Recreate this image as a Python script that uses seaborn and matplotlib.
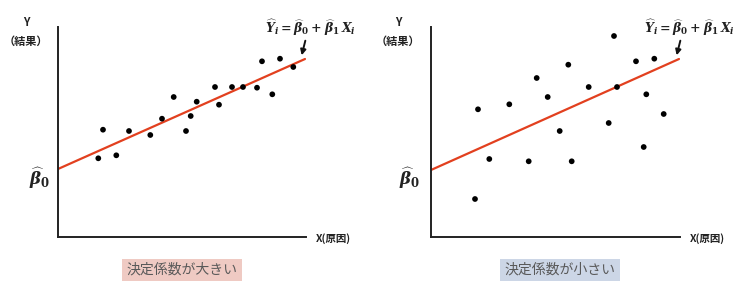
import matplotlib
matplotlib.use("Agg")
import matplotlib.pyplot as plt
import seaborn as sns
import pandas as pd

# ---- data (units arbitrary, origin at axes corner) ----
left_x = [40.3, 45, 58.3, 71, 92.3, 104, 115.7, 128, 132.7, 138.7, 157, 161, 174, 185, 199, 204, 214.3, 222, 235.3]
left_y = [78.7, 107.3, 81.7, 106, 102, 118.3, 140, 106, 121, 135.3, 150, 132.3, 150, 150, 149.3, 175.7, 142.7, 178.3, 170]
left_line_x = [0, 247]
left_line_y = [68, 178]

right_x = [47, 44, 58.3, 78.3, 97.7, 105.7, 116.7, 128.7, 137.3, 140.7, 157.7, 177.7, 183, 186, 205, 212.7, 215.3, 223.3, 232.7]
right_y = [127.7, 38, 78, 132.7, 75.7, 159, 140, 106, 172.3, 75.7, 150, 114, 201, 150, 175.7, 90, 142.7, 178.3, 123]
right_line_x = [0, 248]
right_line_y = [67, 178]

captions = ["決定係数が大きい", "決定係数が小さい"]
caption_colors = ["#efcac3", "#ccd6e6"]

sns.set_theme(style="white")
plt.rcParams['font.family'] = ['Noto Sans CJK JP', 'DejaVu Sans']
plt.rcParams['mathtext.fontset'] = 'custom'
plt.rcParams['mathtext.rm'] = 'DejaVu Serif:bold'
plt.rcParams['mathtext.it'] = 'DejaVu Serif:bold:italic'
plt.rcParams['mathtext.bf'] = 'DejaVu Serif:bold'
plt.rcParams['mathtext.bfit'] = 'DejaVu Serif:bold:italic'

W, H = 749, 293
fig = plt.figure(figsize=(W / 100, H / 100), dpi=100)
fig.patch.set_facecolor("white")

def fx(px):
    return px / W

def fy(py):
    return 1 - py / H

panels = [
    dict(ax_left=58, ax_right=306, xs=left_x, ys=left_y, lx=left_line_x, ly=left_line_y,
         ylab_x=26, xlab_x=316, beta_x=40, eq_x=265, arrow=((306, 38), (301, 58)),
         cap_center=182),
    dict(ax_left=431, ax_right=680, xs=right_x, ys=right_y, lx=right_line_x, ly=right_line_y,
         ylab_x=398, xlab_x=690, beta_x=410, eq_x=644, arrow=((681, 38), (676, 58)),
         cap_center=560),
]

ax_top, ax_bottom = 27, 237
for i, p in enumerate(panels):
    w = p['ax_right'] - p['ax_left']
    ax = fig.add_axes([fx(p['ax_left']), fy(ax_bottom), w / W, (ax_bottom - ax_top) / H])
    ax.set_xlim(0, w)
    ax.set_ylim(0, ax_bottom - ax_top)
    ax.set_facecolor("none")
    df = pd.DataFrame({"x": p['xs'], "y": p['ys']})
    dl = pd.DataFrame({"x": p['lx'], "y": p['ly']})
    sns.lineplot(data=dl, x="x", y="y", ax=ax, color="#e2401f", linewidth=1.6, zorder=2)
    sns.scatterplot(data=df, x="x", y="y", ax=ax, color="black", s=17, edgecolor="none", zorder=3, clip_on=False)
    for s in ["top", "right"]:
        ax.spines[s].set_visible(False)
    for s in ["left", "bottom"]:
        ax.spines[s].set_color("#222222")
        ax.spines[s].set_linewidth(1.4)
    ax.set_xticks([])
    ax.set_yticks([])
    ax.set_xlabel("")
    ax.set_ylabel("")

    # Texts
    fig.text(fx(p['ylab_x']), fy(23), "Y", ha="center", va="center", fontsize=8, fontweight="bold", color="#222222")
    fig.text(fx(p['ylab_x']), fy(41), "（結果）", ha="center", va="center", fontsize=8, fontweight="bold", color="#222222")
    fig.text(fx(p['xlab_x']), fy(239), "X(原因)", ha="left", va="center", fontsize=7.5, fontweight="bold", color="#222222")
    fig.text(fx(p['beta_x']), fy(178), r"$\widehat{\beta}_0$", ha="center", va="center", fontsize=12, color="#222222")
    fig.text(fx(p['eq_x']), fy(28), r"$\widehat{Y}_i = \widehat{\beta}_0 + \widehat{\beta}_1\,X_i$",
             ha="left", va="center", fontsize=9, color="#222222")
    (x0, y0), (x1, y1) = p['arrow']
    fig.patches.append(matplotlib.patches.FancyArrowPatch(
        (fx(x0), fy(y0)), (fx(x1), fy(y1)), transform=fig.transFigure,
        arrowstyle="-|>", mutation_scale=8, linewidth=1.4, color="#111111"))

    fig.text(fx(p['cap_center']), fy(270), captions[i], ha="center", va="center",
             fontsize=10, color="#595959", style="italic",
             bbox=dict(boxstyle="square,pad=0.3", facecolor=caption_colors[i], edgecolor="none"))

fig.savefig("out.png", dpi=100, facecolor="white")
